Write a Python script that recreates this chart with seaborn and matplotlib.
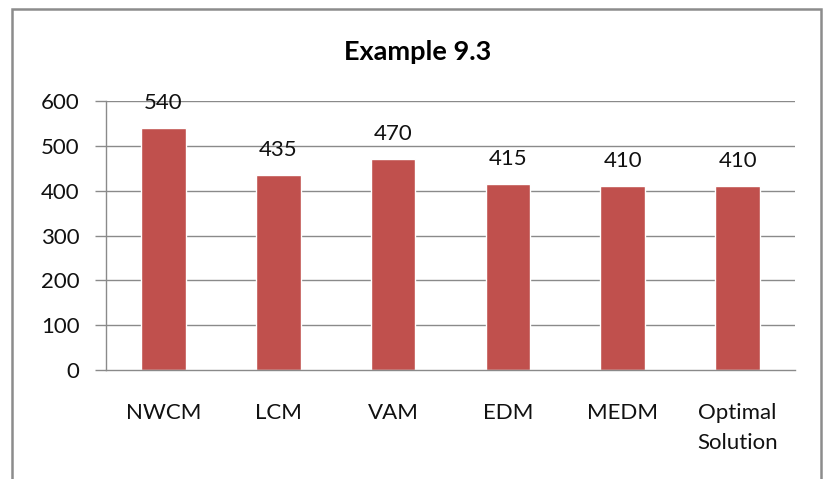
import matplotlib
matplotlib.use("Agg")
import matplotlib.pyplot as plt
from matplotlib.patches import Rectangle
import seaborn as sns
import pandas as pd

# Transportation-problem methods and their total cost
methods = ["NWCM", "LCM", "VAM", "EDM", "MEDM", "Optimal\nSolution"]
costs = [540, 435, 470, 415, 410, 410]
y_ticks = [0, 100, 200, 300, 400, 500, 600]

df = pd.DataFrame({"method": methods, "cost": costs})

sns.set_theme(style="white")
plt.rcParams["font.family"] = ["Lato", "DejaVu Sans"]

W, H = 830, 479
fig = plt.figure(figsize=(W / 100, H / 100), dpi=100)
fig.patch.set_facecolor("white")

# Outer chart frame
fig.add_artist(Rectangle((12 / W, -0.05), (821 - 12) / W, 1.05 - 9 / H,
                         transform=fig.transFigure, fill=False,
                         edgecolor="#8c8c8c", linewidth=1.8))

ax = fig.add_axes([106 / W, 1 - 370 / H, (795 - 106) / W, (370 - 101) / H])

bar_color = "#C0504D"
grid_color = "#8a8a8a"

sns.barplot(data=df, x="method", y="cost", color=bar_color, width=0.39,
            saturation=1, ax=ax, zorder=3)

ax.set_xlim(-0.5, len(methods) - 0.5)
ax.set_ylim(0, 600)
ax.set_yticks(y_ticks)
ax.set_xlabel("")
ax.set_ylabel("")

# Horizontal gridlines
for v in y_ticks[1:]:
    ax.axhline(v, color=grid_color, linewidth=1.0, zorder=1)

for side in ["top", "right"]:
    ax.spines[side].set_visible(False)
for side in ["left", "bottom"]:
    ax.spines[side].set_color(grid_color)
    ax.spines[side].set_linewidth(1.0)
    ax.spines[side].set_zorder(4)

# Category labels centered, tick marks at category boundaries
ax.set_xticks(range(len(methods)))
ax.set_xticklabels(methods, fontsize=16, color="#111111", linespacing=1.6)
ax.tick_params(axis="x", which="major", length=0, pad=24)
ax.set_xticks([i - 0.5 for i in range(len(methods) + 1)], minor=True)
ax.tick_params(axis="x", which="minor", length=9, width=1.0, color=grid_color,
               direction="out")
ax.tick_params(axis="y", length=8, width=1.0, color=grid_color, direction="out",
               labelsize=16, labelcolor="#111111", pad=11, left=True)

for container in ax.containers:
    ax.bar_label(container, labels=[str(v) for v in costs], padding=11,
                 fontsize=16, color="#111111")

fig.text(418 / W, 1 - 60 / H, "Example 9.3", ha="center", va="baseline",
         fontsize=19.5, fontweight="bold", color="#000000")

fig.savefig("out.png", dpi=100)
